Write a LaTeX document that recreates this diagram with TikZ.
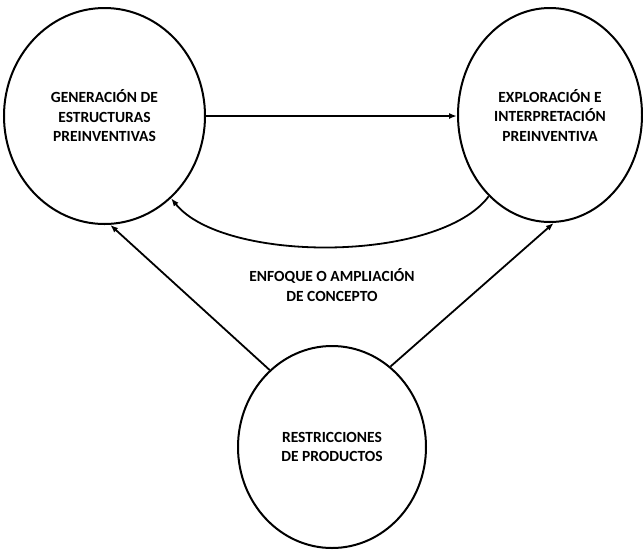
\documentclass[tikz,border=0pt]{standalone}
\usepackage{fontspec}
\setmainfont{Carlito}
\usetikzlibrary{shapes.geometric, arrows.meta, positioning}

\begin{document}
\begin{tikzpicture}[x=1pt, y=-1pt,
        bubble/.style={ellipse, draw, line width=2pt, inner sep=0pt, align=center,
            font=\bfseries\fontsize{15.5}{19.5}\selectfont},
        link/.style={line width=1.8pt, -{Latex[length=8pt, width=6pt]}}]
        \useasboundingbox (0,0) rectangle (643,550);

        % Circles
        \node[bubble, minimum width=201pt, minimum height=216pt] (gen) at (104.5,116) {GENERACIÓN DE\\ESTRUCTURAS\\PREINVENTIVAS};
        \node[bubble, minimum width=184pt, minimum height=214pt] (expl) at (550,115) {EXPLORACIÓN E\\INTERPRETACIÓN\\PREINVENTIVA};
        \node[bubble, minimum width=188pt, minimum height=202pt] (restr) at (332,447) {RESTRICCIONES\\DE PRODUCTOS};

        % Label of the feedback loop
        \node[align=center, font=\bfseries\fontsize{15.5}{19.5}\selectfont] (loop) at (332,285) {ENFOQUE O AMPLIACIÓN\\DE CONCEPTO};

        % Arrows
        \draw[link] (gen.east) -- (expl.west |- gen.east);
        \draw[link] (expl.233) .. controls +(-50,67) and +(52,65) .. (gen.309);
        \draw[link] (restr.129) -- (gen.273);
        \draw[link] (restr.54) -- (expl.272);

    \end{tikzpicture}
\end{document}
